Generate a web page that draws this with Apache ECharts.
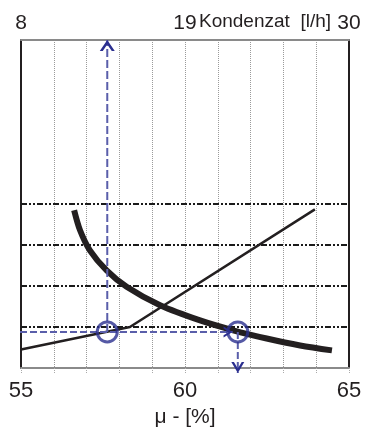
<!DOCTYPE html>
<html><head><meta charset="utf-8">
<script src="https://cdn.jsdelivr.net/npm/echarts@6/dist/echarts.min.js"></script>
<style>html,body{margin:0;padding:0;background:#fff}#c{width:368px;height:430px}</style>
</head><body><div id="c"></div>
<script>
// ---- data ----
const bottomTicks = [55, 60, 65];
const topTickLabels = ['8', '19', '30'];
const xAxisTitle = 'μ - [%]';
const topAxisTitle = 'Kondenzat  [l/h]';
const refLines = [1, 2, 3, 4];
const thinLine = [[55, 0.45], [58.32, 1.0], [63.96, 3.87]];
const thickCurve = [[56.62,3.85],[56.80,3.36],[57.10,2.87],[57.61,2.38],[58.22,1.98],[59.24,1.53],[60.46,1.16],[61.47,0.92],[62.49,0.72],[63.51,0.55],[64.48,0.43]];
const circles = [[57.63, 0.88], [61.61, 0.88]];
const guideUp = [[57.63, 0.88], [57.63, 8]];
const guideAcross = [[54.36, 0.88], [61.45, 0.88]];
const guideDown = [[61.61, 0.88], [61.61, -0.12]];

// ---- styles ----
const FONT = 'Liberation Sans';
const TXT = '#231f20';
const BLUE = '#2b2f8f';
const BLUE_DASH = '#5a5eaa';
const UP = 'path://M0,10L6,0L12,10L9.6,10L6,4L2.4,10Z';
const DOWN = 'path://M0,0L6,10L12,0L9.6,0L6,6L2.4,0Z';
const RIGHT = 'path://M0,0L10,6L0,12L0,9.6L6,6L0,2.4Z';

function guide(points, sym, size, offset, dash) {
  return {
    type: 'line', xAxisIndex: 0, yAxisIndex: 0, clip: false, z: 5,
    lineStyle: { color: BLUE_DASH, width: 2, type: dash },
    itemStyle: { color: BLUE },
    showSymbol: true, symbolKeepAspect: false,
    data: [
      { value: points[0], symbol: 'none' },
      { value: points[1], symbol: sym, symbolSize: size, symbolOffset: offset }
    ]
  };
}

const chart = echarts.init(document.getElementById('c'), null, { renderer: 'canvas' });
chart.setOption({
  animation: false,
  backgroundColor: '#fff',
  textStyle: { fontFamily: FONT, color: TXT },
  grid: { left: 21, right: 19, top: 40, bottom: 62, containLabel: false, outerBoundsMode: 'none' },
  xAxis: [
    {
      type: 'value', position: 'bottom', min: 55, max: 65, interval: 1,
      axisLine: { onZero: false, lineStyle: { color: '#8a8a8a', width: 2 } },
      axisTick: { show: true, length: 5, lineStyle: { color: '#aaa', type: [1, 1] } },
      axisLabel: {
        margin: 12, fontSize: 22, color: TXT, fontFamily: FONT,
        formatter: v => bottomTicks.includes(v) ? String(v) : ''
      },
      splitLine: { show: true, lineStyle: { color: '#9a9a9a', width: 1, type: [1, 1] } },
      name: xAxisTitle, nameLocation: 'middle', nameGap: 31,
      nameTextStyle: { fontSize: 21, color: TXT, fontFamily: FONT }
    },
    {
      type: 'value', position: 'top', min: 55, max: 65, interval: 5,
      axisLine: { onZero: false, lineStyle: { color: '#8a8a8a', width: 2 } },
      axisTick: { show: false },
      axisLabel: {
        margin: 6, fontSize: 21, color: TXT, fontFamily: FONT,
        formatter: v => { const i = bottomTicks.indexOf(v); return i >= 0 ? topTickLabels[i] : ''; }
      },
      splitLine: { show: false }
    }
  ],
  yAxis: [
    {
      type: 'value', position: 'left', min: 0, max: 8, interval: 1,
      axisLine: { show: true, onZero: false, lineStyle: { color: '#231f20', width: 2 } },
      axisTick: { show: false }, axisLabel: { show: false }, splitLine: { show: false }
    },
    {
      type: 'value', position: 'right', min: 0, max: 8, interval: 1,
      axisLine: { show: true, onZero: false, lineStyle: { color: '#231f20', width: 2 } },
      axisTick: { show: false }, axisLabel: { show: false }, splitLine: { show: false }
    }
  ],
  graphic: [
    { type: 'text', left: 199, top: 12, style: { text: topAxisTitle, fontSize: 19, fontFamily: FONT, fill: TXT } }
  ],
  series: [
    {
      type: 'line', data: thinLine, xAxisIndex: 0, yAxisIndex: 0, z: 3,
      showSymbol: false, symbol: 'none',
      lineStyle: { color: '#231f20', width: 2.5 },
      markLine: {
        silent: true, symbol: 'none', label: { show: false }, z: 2,
        lineStyle: { color: '#1a1a1a', width: 2, type: [6, 2, 2, 2, 2, 2] },
        data: refLines.map(v => ({ yAxis: v }))
      }
    },
    {
      type: 'line', data: thickCurve, xAxisIndex: 0, yAxisIndex: 0, z: 4,
      showSymbol: false, symbol: 'none', smooth: 0.3,
      lineStyle: { color: '#231f20', width: 6 }
    },
    guide(guideUp, UP, [15, 11], [0, 5.5], [8, 3]),
    guide(guideAcross, RIGHT, [9, 11], [-4.5, 0], [7, 3]),
    guide(guideDown, DOWN, [13, 11], [0, -5.5], [7, 3]),
    {
      type: 'scatter', data: circles, xAxisIndex: 0, yAxisIndex: 0, z: 6, clip: false,
      symbol: 'circle', symbolSize: 20,
      itemStyle: { color: 'rgba(0,0,0,0)', borderColor: BLUE, borderWidth: 3 }
    }
  ]
});
</script>
</body></html>
